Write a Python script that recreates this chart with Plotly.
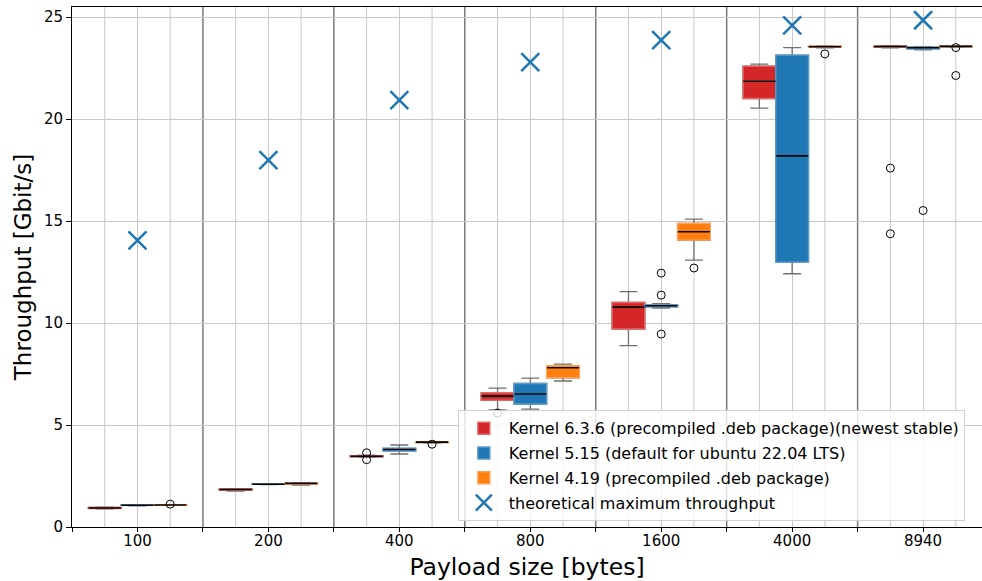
import plotly.graph_objects as go

# ---------------- data ----------------
categories = ["100", "200", "400", "800", "1600", "4000", "8940"]

k636_lower = [0.89, 1.76, 3.42, 5.74, 8.89, 20.54, 23.50]
k636_q1 = [0.91, 1.80, 3.44, 6.22, 9.71, 21.01, 23.53]
k636_med = [0.93, 1.84, 3.47, 6.42, 10.78, 21.86, 23.56]
k636_q3 = [0.96, 1.87, 3.50, 6.58, 11.01, 22.60, 23.58]
k636_upper = [0.97, 1.88, 3.52, 6.81, 11.54, 22.70, 23.60]
k636_outliers = [[], [], [3.64, 3.30], [5.59], [], [], [17.60, 14.38]]

k515_lower = [1.04, 2.08, 3.58, 5.78, 10.73, 12.42, 23.40]
k515_q1 = [1.06, 2.09, 3.73, 6.03, 10.80, 12.99, 23.45]
k515_med = [1.07, 2.10, 3.80, 6.52, 10.85, 18.20, 23.50]
k515_q3 = [1.08, 2.11, 3.86, 7.04, 10.90, 23.14, 23.53]
k515_upper = [1.09, 2.12, 4.02, 7.30, 10.95, 23.51, 23.56]
k515_outliers = [[], [], [], [], [12.45, 11.37, 9.46], [], [15.52]]

k419_lower = [1.06, 2.05, 4.12, 7.16, 13.09, 23.50, 23.53]
k419_q1 = [1.07, 2.10, 4.14, 7.32, 14.07, 23.52, 23.55]
k419_med = [1.08, 2.14, 4.16, 7.81, 14.48, 23.55, 23.57]
k419_q3 = [1.09, 2.16, 4.17, 7.91, 14.89, 23.58, 23.59]
k419_upper = [1.10, 2.17, 4.18, 7.99, 15.10, 23.60, 23.61]
k419_outliers = [[1.12], [], [4.06], [], [12.70], [23.20], [23.51, 22.14]]

theoretical_max = [14.05, 17.99, 20.93, 22.80, 23.87, 24.60, 24.85]

series_names = [
    "Kernel 6.3.6 (precompiled .deb package)(newest stable)",
    "Kernel 5.15 (default for ubuntu 22.04 LTS)",
    "Kernel 4.19 (precompiled .deb package)",
]
max_name = "theoretical maximum throughput"

# ---------------- style ----------------
FONT = "DejaVu Sans"
colors = ["#d62728", "#1f77b4", "#ff7f0e"]
edge_colors = ["#e06a6b", "#5b9dcc", "#ffa257"]
offsets = [-0.25, 0.0, 0.25]
box_w = 0.25
whisker_col = "#707070"
light_grid = "#c8c8c8"
dark_grid = "#7a7a7a"

series = [
    (k636_lower, k636_q1, k636_med, k636_q3, k636_upper, k636_outliers),
    (k515_lower, k515_q1, k515_med, k515_q3, k515_upper, k515_outliers),
    (k419_lower, k419_q1, k419_med, k419_q3, k419_upper, k419_outliers),
]

idx = list(range(len(categories)))
fig = go.Figure()

# whiskers (grey) boxes first
for s, (lo, q1, med, q3, up, outl) in enumerate(series):
    xs = [i + offsets[s] for i in idx]
    fig.add_trace(go.Box(
        x=xs, q1=q1, median=med, q3=q3, lowerfence=lo, upperfence=up,
        width=box_w, whiskerwidth=0.55, fillcolor=colors[s],
        line=dict(color=whisker_col, width=1.3),
        boxpoints=False, showlegend=False, hoverinfo="skip",
    ))

# coloured box bodies
for s, (lo, q1, med, q3, up, outl) in enumerate(series):
    xs = [i + offsets[s] for i in idx]
    fig.add_trace(go.Box(
        x=xs, q1=q1, median=med, q3=q3, lowerfence=q1, upperfence=q3,
        width=box_w, whiskerwidth=0, fillcolor=colors[s],
        line=dict(color=edge_colors[s], width=1.4),
        boxpoints=False, name=series_names[s], legendgroup=f"g{s}",
        showlegend=True,
    ))

# medians
for s, (lo, q1, med, q3, up, outl) in enumerate(series):
    xs = [i + offsets[s] for i in idx]
    fig.add_trace(go.Scatter(
        x=xs, y=med, mode="markers",
        marker=dict(symbol="line-ew", size=23,
                    line=dict(color="black", width=1.6), color="black"),
        showlegend=False, hoverinfo="skip",
    ))

# outliers
for s, (lo, q1, med, q3, up, outl) in enumerate(series):
    ox, oy = [], []
    for i in idx:
        for v in outl[i]:
            ox.append(i + offsets[s])
            oy.append(v)
    fig.add_trace(go.Scatter(
        x=ox, y=oy, mode="markers",
        marker=dict(symbol="circle-open", size=8,
                    line=dict(color="black", width=1), color="black"),
        showlegend=False, hoverinfo="skip",
    ))

# theoretical maximum
fig.add_trace(go.Scatter(
    x=idx, y=theoretical_max, mode="markers", name=max_name,
    legendgroup="g3",
    marker=dict(symbol="x-thin", size=18, color="#1f77b4",
                line=dict(color="#1f77b4", width=2.5)),
))

# gridlines at side box positions (light) and group separators (dark)
shapes = []
for i in idx:
    for off in (offsets[0], offsets[2]):
        shapes.append(dict(type="line", xref="x", yref="paper",
                           x0=i + off, x1=i + off, y0=0, y1=1,
                           layer="below",
                           line=dict(color=light_grid, width=1)))
for i in idx[:-1]:
    shapes.append(dict(type="line", xref="x", yref="paper",
                       x0=i + 0.5, x1=i + 0.5, y0=0, y1=1,
                       layer="below",
                       line=dict(color=dark_grid, width=1.5)))

fig.update_layout(
    width=982, height=581,
    margin=dict(l=72, r=0, t=7, b=54),
    paper_bgcolor="white", plot_bgcolor="white",
    font=dict(family=FONT, size=15, color="black"),
    shapes=shapes,
    showlegend=True,
    legend=dict(
        x=0.424, y=0.011, xanchor="left", yanchor="bottom",
        bgcolor="rgba(255,255,255,0.8)", bordercolor="#d0d0d0", borderwidth=1,
        font=dict(family=FONT, size=16, color="black"),
        traceorder="grouped", tracegroupgap=1, itemwidth=40,
    ),
    boxmode="overlay",
)

tick_positions = sorted([i + 0.5 for i in range(-1, 6)] + idx)
fig.update_xaxes(
    range=[-0.5, 6.45],
    tickmode="array", tickvals=idx, ticktext=categories,
    ticks="", ticklen=0,
    showgrid=True, gridcolor=light_grid, gridwidth=1,
    minor=dict(tickmode="array", tickvals=tick_positions,
               ticks="outside", ticklen=4, tickcolor="black", tickwidth=1,
               showgrid=False),
    showline=True, linecolor="black", linewidth=1, mirror=True,
    zeroline=False,
    tickfont=dict(family=FONT, size=15, color="black"),
    title=dict(text="Payload size [bytes]", font=dict(family=FONT, size=23.5, color="black"), standoff=9),
)
fig.update_yaxes(
    range=[0, 25.5],
    tickmode="array", tickvals=[0, 5, 10, 15, 20, 25],
    ticks="outside", ticklen=5, tickcolor="black", tickwidth=1,
    showgrid=True, gridcolor=light_grid, gridwidth=1,
    showline=True, linecolor="black", linewidth=1, mirror=False,
    zeroline=False,
    tickfont=dict(family=FONT, size=15, color="black"),
    title=dict(text="Throughput [Gbit/s]", font=dict(family=FONT, size=23, color="black"), standoff=5),
)

fig.write_html("out.html")
